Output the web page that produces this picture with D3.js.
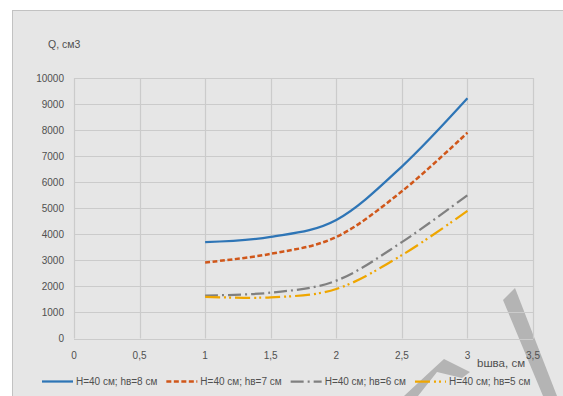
<!DOCTYPE html>
<html><head><meta charset="utf-8">
<script src="https://cdn.jsdelivr.net/npm/d3@7"></script>
<style>body{margin:0;background:#fff}svg{display:block}text{font-family:"Liberation Sans",Arial,sans-serif;fill:#505050}</style>
</head><body><svg id="c" width="563" height="396"></svg>
<script>
const xValues = [1, 1.5, 2, 2.5, 3];
const seriesNames = ["H=40 см; hв=8 см", "H=40 см; hв=7 см", "H=40 см; hв=6 см", "H=40 см; hв=5 см"];
const s8 = [3700, 3900, 4550, 6600, 9220];
const s7 = [2920, 3250, 3900, 5650, 7900];
const s6 = [1650, 1760, 2220, 3700, 5500];
const s5 = [1600, 1580, 1900, 3200, 4900];
const xTicks = [0, 0.5, 1, 1.5, 2, 2.5, 3, 3.5];
const xTickLabels = ["0", "0,5", "1", "1,5", "2", "2,5", "3", "3,5"];
const yTicks = [0,1000,2000,3000,4000,5000,6000,7000,8000,9000,10000];
const yTitle = "Q, см3";
const xTitle = "bшва, см";

const styles = [
  {color:"#2E75B6", dash:null, w:2.25},
  {color:"#D0571A", dash:"5,2.5", w:2.5},
  {color:"#808080", dash:"13,4,2,4", w:2.25},
  {color:"#EFA600", dash:"15,4,2,3,2,4", w:2.25}
];
const series = [s8, s7, s6, s5];

const svg = d3.select("#c");
// chart area background
svg.append("rect").attr("x",12.5).attr("y",10.5).attr("width",600).attr("height",420)
  .attr("fill","#e6e6e6").attr("stroke","#c2c2c2").attr("stroke-width",1);

// watermark strokes (decoration, beneath text)
const wm = svg.append("g").attr("fill","#b4b4b4");
wm.append("polygon").attr("points","503,300 515,288 557,396 543,396");
wm.append("polygon").attr("points","404,396 432,370 444,359 470,372 462,378 437,372 418,396");

const x = d3.scaleLinear().domain([0,3.5]).range([74,533]);
const y = d3.scaleLinear().domain([0,10000]).range([338.5,78]);

// gridlines
svg.append("g").selectAll("line").data(yTicks).join("line")
  .attr("x1",x(0)).attr("x2",x(3.5)).attr("y1",d=>Math.round(y(d))+0.5).attr("y2",d=>Math.round(y(d))+0.5)
  .attr("stroke","#cbcbcb").attr("stroke-width",1.2);
svg.append("g").selectAll("line").data(xTicks).join("line")
  .attr("y1",y(0)).attr("y2",y(10000)).attr("x1",d=>Math.round(x(d))+0.5).attr("x2",d=>Math.round(x(d))+0.5)
  .attr("stroke","#cbcbcb").attr("stroke-width",1.2);

// tick labels
svg.append("g").selectAll("text").data(yTicks).join("text")
  .attr("x",64).attr("y",d=>y(d)).attr("dy","0.35em").attr("text-anchor","end")
  .attr("font-size",10).text(d=>d);
svg.append("g").selectAll("text").data(xTicks).join("text")
  .attr("x",d=>x(d)).attr("y",355).attr("dy","0.35em").attr("text-anchor","middle")
  .attr("font-size",10).text((d,i)=>xTickLabels[i]);

svg.append("text").attr("x",48).attr("y",44).attr("dy","0.35em").attr("font-size",10.5).text(yTitle);
svg.append("text").attr("x",477).attr("y",363).attr("dy","0.35em").attr("font-size",11.5).text(xTitle);

// lines
const line = d3.line().x((d,i)=>x(xValues[i])).y(d=>y(d)).curve(d3.curveCardinal.tension(0));
series.forEach((s,k)=>{
  svg.append("path").attr("d",line(s)).attr("fill","none")
    .attr("stroke",styles[k].color).attr("stroke-width",styles[k].w)
    .attr("stroke-dasharray",styles[k].dash).attr("stroke-linecap","butt");
});

// legend
let lx = 42;
const ly = 381.5;
seriesNames.forEach((n,k)=>{
  const g = svg.append("g");
  g.append("line").attr("x1",lx).attr("x2",lx+31).attr("y1",ly).attr("y2",ly)
    .attr("stroke",styles[k].color).attr("stroke-width",styles[k].w).attr("stroke-dasharray",styles[k].dash);
  const t = g.append("text").attr("x",lx+34).attr("y",ly).attr("dy","0.35em").attr("font-size",10).text(n);
  lx += 34 + t.node().getComputedTextLength() + 9;
});
</script></body></html>
